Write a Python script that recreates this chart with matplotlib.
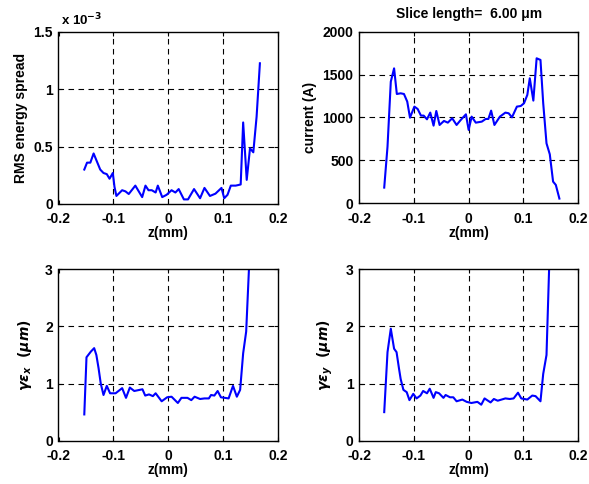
#!/usr/bin/env python3
"""Slice parameters along the bunch: energy spread, current and emittances."""

import matplotlib
matplotlib.use("Agg")
import matplotlib.pyplot as plt

# RMS energy spread (units of 1e-3)
z_spread = [-0.153, -0.148, -0.142, -0.136, -0.130, -0.124, -0.118, -0.112, -0.107, -0.101,
            -0.098, -0.0945, -0.084, -0.078, -0.072, -0.060, -0.0475, -0.0415, -0.036, -0.030,
            -0.023, -0.019, -0.011, -0.003, 0.006, 0.013, 0.019, 0.0285, 0.036, 0.047,
            0.058, 0.066, 0.076, 0.086, 0.097, 0.102, 0.108, 0.114, 0.123, 0.132,
            0.1365, 0.143, 0.149, 0.155, 0.161, 0.167]
spread = [0.30, 0.36, 0.36, 0.44, 0.37, 0.30, 0.27, 0.26, 0.22, 0.27,
          0.15, 0.07, 0.12, 0.11, 0.087, 0.16, 0.06, 0.16, 0.12, 0.12,
          0.10, 0.16, 0.06, 0.08, 0.12, 0.10, 0.13, 0.04, 0.04, 0.13,
          0.05, 0.14, 0.07, 0.09, 0.14, 0.05, 0.08, 0.16, 0.16, 0.17,
          0.71, 0.21, 0.485, 0.45, 0.76, 1.225]

# current (A)
z_current = [-0.154, -0.148, -0.142, -0.136, -0.131, -0.124, -0.118, -0.112, -0.107, -0.099,
             -0.093, -0.087, -0.082, -0.076, -0.070, -0.064, -0.059, -0.053, -0.045, -0.038,
             -0.030, -0.022, -0.0145, -0.005, 0.0, 0.0055, 0.013, 0.024, 0.031, 0.036,
             0.041, 0.047, 0.057, 0.067, 0.073, 0.079, 0.088, 0.095, 0.101, 0.107,
             0.1115, 0.118, 0.124, 0.131, 0.136, 0.142, 0.148, 0.154, 0.159, 0.1655]
current = [183, 660, 1418, 1573, 1274, 1282, 1274, 1185, 998, 1127,
           1099, 1022, 1022, 979, 1057, 905, 1076, 913, 960, 940,
           991, 913, 971, 1037, 855, 1010, 940, 952, 983, 983,
           1080, 913, 1010, 1057, 1049, 1002, 1127, 1134, 1166, 1263,
           1457, 1197, 1690, 1671, 1166, 699, 571, 253, 214, 55]

# normalized emittance x (um)
z_emx = [-0.153, -0.149, -0.141, -0.135, -0.131, -0.127, -0.123, -0.118, -0.112, -0.106,
         -0.096, -0.084, -0.077, -0.070, -0.062, -0.047, -0.042, -0.035, -0.028, -0.023,
         -0.012, -0.002, 0.006, 0.0175, 0.024, 0.035, 0.042, 0.048, 0.058, 0.066,
         0.074, 0.078, 0.084, 0.090, 0.096, 0.110, 0.118, 0.125, 0.131, 0.1365,
         0.142, 0.154]
emx = [0.46, 1.46, 1.56, 1.62, 1.50, 1.27, 1.00, 0.80, 0.96, 0.83,
       0.83, 0.92, 0.75, 0.93, 0.87, 0.90, 0.79, 0.81, 0.78, 0.83,
       0.69, 0.76, 0.77, 0.66, 0.75, 0.75, 0.71, 0.77, 0.73, 0.74,
       0.74, 0.80, 0.79, 0.87, 0.76, 0.74, 0.96, 0.77, 0.89, 1.53,
       1.91, 4.5]

# normalized emittance y (um)
z_emy = [-0.154, -0.148, -0.142, -0.136, -0.1315, -0.127, -0.124, -0.119, -0.113, -0.108,
         -0.101, -0.095, -0.088, -0.083, -0.076, -0.071, -0.064, -0.060, -0.054, -0.046,
         -0.042, -0.034, -0.028, -0.022, -0.0115, -0.0036, 0.005, 0.016, 0.023, 0.029,
         0.040, 0.046, 0.053, 0.067, 0.075, 0.082, 0.090, 0.096, 0.107, 0.116,
         0.122, 0.131, 0.136, 0.142, 0.148]
emy = [0.50, 1.55, 1.96, 1.61, 1.55, 1.26, 1.08, 0.89, 0.85, 0.71,
       0.82, 0.74, 0.79, 0.87, 0.83, 0.91, 0.75, 0.85, 0.83, 0.75,
       0.80, 0.76, 0.76, 0.69, 0.72, 0.68, 0.66, 0.68, 0.63, 0.74,
       0.67, 0.73, 0.70, 0.74, 0.73, 0.74, 0.84, 0.74, 0.72, 0.79,
       0.78, 0.69, 1.17, 1.50, 3.4]

xticks = [-0.2, -0.1, 0, 0.1, 0.2]
xticklabels = ["-0.2", "-0.1", "0", "0.1", "0.2"]

plt.rcParams["font.family"] = ["Liberation Sans", "DejaVu Sans"]
plt.rcParams["font.weight"] = "bold"
plt.rcParams["font.size"] = 10
plt.rcParams["mathtext.fontset"] = "dejavusans"

W, H = 589, 484
fig = plt.figure(figsize=(W / 100, H / 100), dpi=100)


def make_ax(left, top, right, bottom):
    return fig.add_axes([left / W, 1 - bottom / H, (right - left) / W, (bottom - top) / H])


def style(ax, yticks, yticklabels, ylim):
    ax.set_xlim(-0.2, 0.2)
    ax.set_ylim(*ylim)
    ax.set_xticks(xticks)
    ax.set_xticklabels(xticklabels, fontweight="bold")
    ax.set_yticks(yticks)
    ax.set_yticklabels(yticklabels, fontweight="bold")
    ax.tick_params(direction="in", length=3, width=0.8, colors="black")
    ax.tick_params(axis="x", pad=6)
    ax.tick_params(axis="y", pad=4)
    ax.tick_params(top=True, right=True)
    ax.grid(True, color="black", linestyle=(0, (5, 4)), linewidth=0.8)
    # no dashed grid on top of the frame itself
    for gl in (ax.get_xgridlines()[0], ax.get_xgridlines()[-1],
               ax.get_ygridlines()[0], ax.get_ygridlines()[-1]):
        gl.set_visible(False)
    ax.set_axisbelow(True)
    for s in ax.spines.values():
        s.set_linewidth(1.0)
        s.set_zorder(3)
    ax.set_xlabel("z(mm)", fontweight="bold", labelpad=0)


ax1 = make_ax(58.5, 31.7, 278, 204)
ax1.plot(z_spread, spread, color="#0000ff", linewidth=1.5)
style(ax1, [0, 0.5, 1, 1.5], ["0", "0.5", "1", "1.5"], (0, 1.5))
ax1.set_ylabel("RMS energy spread", fontweight="bold")
ax1.text(0.01, 1.02, r"x 10$^{\mathbf{-3}}$", transform=ax1.transAxes,
         ha="left", va="bottom", fontweight="bold", fontsize=9.5)

ax2 = make_ax(359, 31.7, 578.3, 203.3)
ax2.plot(z_current, current, color="#0000ff", linewidth=1.5)
style(ax2, [0, 500, 1000, 1500, 2000], ["0", "500", "1000", "1500", "2000"], (0, 2000))
ax2.set_ylabel("current (A)", fontweight="bold")
ax2.set_title("Slice length=  6.00 \u03bcm", fontweight="bold", fontsize=10, pad=10)

ax3 = make_ax(58.5, 269.3, 278, 440.7)
ax3.plot(z_emx, emx, color="#0000ff", linewidth=1.5)
style(ax3, [0, 1, 2, 3], ["0", "1", "2", "3"], (0, 3))
ax3.set_ylabel(r"$\gamma\varepsilon_x\ \ (\mu m)$", fontsize=10, labelpad=8)

ax4 = make_ax(359, 269.3, 578.3, 440.7)
ax4.plot(z_emy, emy, color="#0000ff", linewidth=1.5)
style(ax4, [0, 1, 2, 3], ["0", "1", "2", "3"], (0, 3))
ax4.set_ylabel(r"$\gamma\varepsilon_y\ \ (\mu m)$", fontsize=10, labelpad=8)

fig.savefig("out.png", dpi=100)
